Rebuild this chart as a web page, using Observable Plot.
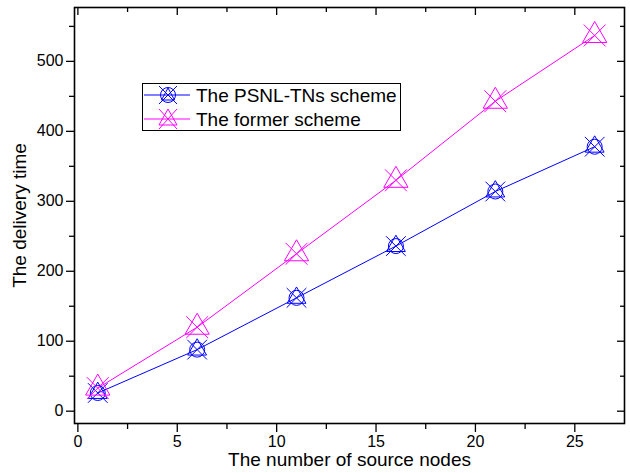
<!DOCTYPE html>
<html>
<head>
<meta charset="utf-8">
<script src="https://cdn.jsdelivr.net/npm/d3@7"></script>
<script src="https://cdn.jsdelivr.net/npm/@observablehq/plot@0.6"></script>
<style>
  html, body { margin: 0; padding: 0; background: #fff; }
  #wrap { position: relative; width: 630px; height: 473px; font-family: "Liberation Sans", Arial, sans-serif; }
  #legend { position: absolute; left: 142px; top: 83px; width: 259px; height: 48px; border: 1.2px solid #000; background: #fff; box-sizing: border-box; }
  #legend svg { overflow: visible; display: block; }
</style>
</head>
<body>
<div id="wrap"></div>
<script>
const sourceNodes = [1, 6, 11, 16, 21, 26];
const psnlTimes = [26, 88, 162, 236, 314, 378];
const formerTimes = [33, 120, 225, 330, 443, 537];
const seriesNames = ["The PSNL-TNs scheme", "The former scheme"];
const seriesColors = ["#0000ff", "#ff00ff"];
const xMajor = [0, 5, 10, 15, 20, 25];
const xMinor = [2.5, 7.5, 12.5, 17.5, 22.5];
const yMajor = [0, 100, 200, 300, 400, 500];
const yMinor = [50, 150, 250, 350, 450, 550];

const psnl = sourceNodes.map((x, i) => ({x, y: psnlTimes[i]}));
const former = sourceNodes.map((x, i) => ({x, y: formerTimes[i]}));

const font = "Liberation Sans, Arial, sans-serif";
const tk = {stroke: "#000", strokeWidth: 1.3, label: null};
const chart = Plot.plot({
  width: 630,
  height: 473,
  marginLeft: 74,
  marginRight: 6,
  marginTop: 7,
  marginBottom: 50,
  style: {fontFamily: font, fontSize: "16px", color: "#000", background: "#fff"},
  x: {domain: [-0.17, 27.5]},
  y: {domain: [-17.6, 577]},
  marks: [
    Plot.axisX({...tk, ticks: xMajor, tickSize: 9, tickPadding: 3, fontSize: 16, tickFormat: d => d}),
    Plot.axisX({...tk, ticks: xMinor, tickSize: 6, text: null}),
    Plot.axisX({...tk, anchor: "top", ticks: xMajor, tickSize: -7, text: null}),
    Plot.axisX({...tk, anchor: "top", ticks: xMinor, tickSize: -4, text: null}),
    Plot.axisY({...tk, ticks: yMajor, tickSize: 8, tickPadding: 3, fontSize: 16, tickFormat: d => d}),
    Plot.axisY({...tk, ticks: yMinor, tickSize: 5, text: null}),
    Plot.axisY({...tk, anchor: "right", ticks: yMajor, tickSize: -8, text: null}),
    Plot.axisY({...tk, anchor: "right", ticks: yMinor, tickSize: -5, text: null}),
    Plot.frame({stroke: "#000", strokeWidth: 1.6}),
    Plot.line(psnl, {x: "x", y: "y", stroke: seriesColors[0], strokeWidth: 1}),
    Plot.line(former, {x: "x", y: "y", stroke: seriesColors[1], strokeWidth: 1}),
    Plot.dot(psnl, {x: "x", y: "y", r: 7.5, symbol: "circle", stroke: seriesColors[0], strokeWidth: 1}),
    Plot.dot(psnl, {x: "x", y: "y", r: 7, symbol: "triangle", stroke: seriesColors[0], strokeWidth: 1}),
    Plot.dot(psnl, {x: "x", y: "y", r: 9, symbol: "times", stroke: seriesColors[0], strokeWidth: 1}),
    Plot.dot(former, {x: "x", y: "y", r: 9, symbol: "triangle", stroke: seriesColors[1], strokeWidth: 1}),
    Plot.dot(former, {x: "x", y: "y", r: 10, symbol: "times", stroke: seriesColors[1], strokeWidth: 1}),
    Plot.text(["The number of source nodes"], {frameAnchor: "bottom", dy: 42, fontSize: 19, fill: "#000", textAnchor: "middle"}),
    Plot.text(["The delivery time"], {frameAnchor: "left", dx: -55, rotate: -90, fontSize: 19, fill: "#000", textAnchor: "middle"})
  ]
});
const wrap = document.getElementById("wrap");
wrap.appendChild(chart);

// legend
const leg = document.createElement("div");
leg.id = "legend";
const ns = "http://www.w3.org/2000/svg";
const svg = document.createElementNS(ns, "svg");
svg.setAttribute("width", 256); svg.setAttribute("height", 46);
const rows = [11, 35];
rows.forEach((cy, i) => {
  const c = seriesColors[i];
  const line = document.createElementNS(ns, "line");
  line.setAttribute("x1", 1); line.setAttribute("x2", 47);
  line.setAttribute("y1", cy); line.setAttribute("y2", cy);
  line.setAttribute("stroke", c);
  svg.appendChild(line);
  const g = document.createElementNS(ns, "g");
  g.setAttribute("transform", `translate(25,${cy})`);
  g.setAttribute("stroke", c); g.setAttribute("fill", "none");
  if (i === 0) {
    g.innerHTML = '<circle r="7.5"/><path d="M0,-7L6.5,5L-6.5,5Z"/><path d="M-9,-9L9,9M9,-9L-9,9"/>';
  } else {
    g.innerHTML = '<path d="M0,-10L9,6L-9,6Z"/><path d="M-9,-10L9,10M9,-10L-9,10"/>';
  }
  svg.appendChild(g);
  const t = document.createElementNS(ns, "text");
  t.setAttribute("x", 53); t.setAttribute("y", cy + 7);
  t.setAttribute("font-family", font); t.setAttribute("font-size", 19);
  t.textContent = seriesNames[i];
  svg.appendChild(t);
});
leg.appendChild(svg);
wrap.appendChild(leg);
</script>
</body>
</html>
